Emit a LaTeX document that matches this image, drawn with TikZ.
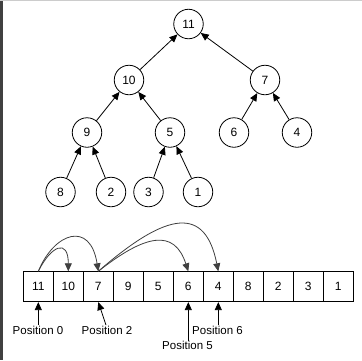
\documentclass[tikz,border=0pt]{standalone}
\usepackage{fontspec}
\setmainfont{Liberation Sans}
\usetikzlibrary{arrows.meta}
\begin{document}
\begin{tikzpicture}[x=1pt,y=-1pt,
  hn/.style={circle,draw,line width=0.8pt,minimum size=29.5pt,inner sep=0pt,font=\fontsize{12}{13}\selectfont},
  cell/.style={rectangle,draw,line width=0.8pt,minimum width=30pt,minimum height=30pt,inner sep=0pt,font=\fontsize{12}{13}\selectfont},
  lbl/.style={inner sep=0.5pt,font=\fontsize{11.5}{12}\selectfont},
  edge/.style={line width=0.8pt,-{Triangle[length=8pt,width=7pt]}},
  arc/.style={line width=0.8pt,draw=black!75,-{Triangle[length=8pt,width=7pt]}}]
\useasboundingbox (0,0) rectangle (362,360);
\fill[white] (0,0) rectangle (362,360);
\fill[black!75] (0,0) rectangle (3,360);
\fill[black!20] (0,0) rectangle (362,1);
% tree
\node[hn] (n11) at (188.5,24) {11};
\node[hn] (n10) at (129,80) {10};
\node[hn] (n7)  at (265,80) {7};
\node[hn] (n9)  at (87,132.5) {9};
\node[hn] (n5)  at (170,132.5) {5};
\node[hn] (n6)  at (234,132.5) {6};
\node[hn] (n4)  at (297,132.5) {4};
\node[hn] (n8)  at (60.5,192) {8};
\node[hn] (n2)  at (111,192) {2};
\node[hn] (n3)  at (148.5,192) {3};
\node[hn] (n1)  at (198,192) {1};
\draw[edge] (n10) -- (n11);
\draw[edge] (n7) -- (n11);
\draw[edge] (n9) -- (n10);
\draw[edge] (n5) -- (n10);
\draw[edge] (n6) -- (n7);
\draw[edge] (n4) -- (n7);
\draw[edge] (n8) -- (n9);
\draw[edge] (n2) -- (n9);
\draw[edge] (n3) -- (n5);
\draw[edge] (n1) -- (n5);
% array
\foreach \v [count=\i from 0] in {11,10,7,9,5,6,4,8,2,3,1}
  \node[cell] (c\i) at (38.3+30*\i,286.7) {\v};
% arcs
\draw[arc] (c0.north) .. controls +(13,-26) and +(0,-33) .. (c1.north);
\draw[arc] (c0.north) .. controls +(16,-39) and +(-8,-51) .. (c2.north);
\draw[arc] (c2.north) .. controls +(47,-37) and +(-14,-43) .. (c5.north);
\draw[arc] (c2.north) .. controls +(70,-61) and +(-13,-65) .. (c6.north);
% labels
\node[lbl] (p0) at (38,330) {Position 0};
\node[lbl] (p2) at (107,330) {Position 2};
\node[lbl] (p5) at (187.5,345.5) {Position 5};
\node[lbl] (p6) at (217.5,330) {Position 6};
\draw[edge] (p0.north -| c0.south) -- (c0.south);
\draw[edge] (p2.north) ++(-1,0) -- (c2.south);
\draw[edge] (p5.north -| c5.south) -- (c5.south);
\draw[edge] (p6.north -| c6.south) -- (c6.south);
\end{tikzpicture}
\end{document}
